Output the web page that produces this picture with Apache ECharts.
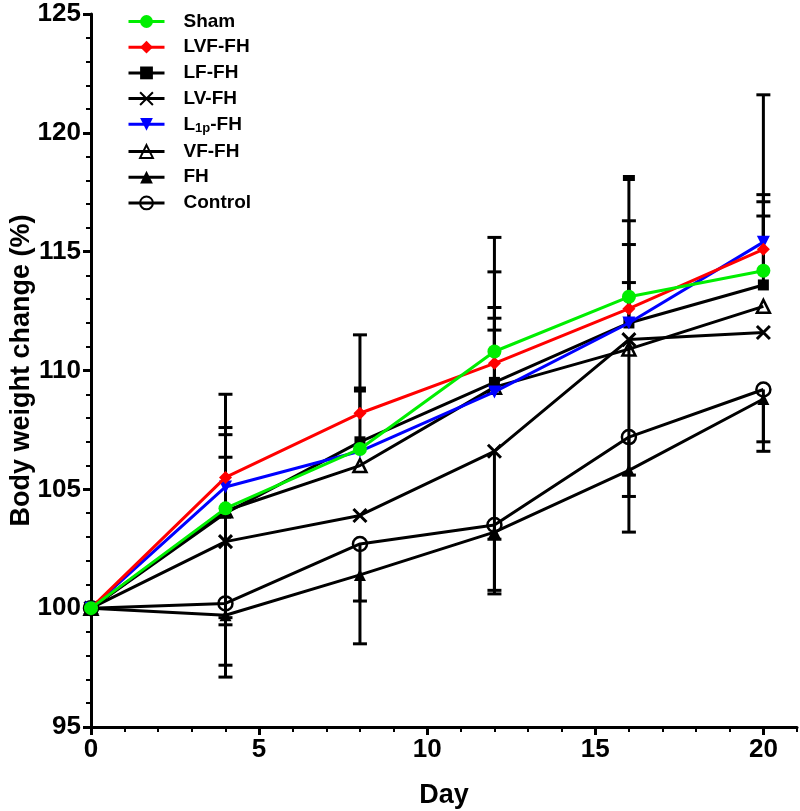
<!DOCTYPE html>
<html>
<head>
<meta charset="utf-8">
<script src="https://cdn.jsdelivr.net/npm/echarts@6/dist/echarts.min.js"></script>
<style>html,body{margin:0;padding:0;background:#fff}#chart{width:800px;height:811px}</style>
</head>
<body>
<div id="chart"></div>
<script>
// ---- data ----
var days = [0, 4, 8, 12, 16, 20];
var seriesNames = ['Sham', 'LVF-FH', 'LF-FH', 'LV-FH', 'L1p-FH', 'VF-FH', 'FH', 'Control'];
var sham    = [100, 104.2, 106.7, 110.8, 113.1, 114.2];
var lvf     = [100, 105.5, 108.2, 110.3, 112.6, 115.1];
var lf      = [100, 104.0, 107.0, 109.5, 112.0, 113.6];
var lv      = [100, 102.8, 103.9, 106.6, 111.3, 111.6];
var l1p     = [100, 105.1, 106.6, 109.1, 112.0, 115.4];
var vf      = [100, 104.1, 106.0, 109.3, 110.9, 112.7];
var fh      = [100, 99.7, 101.4, 103.2, 105.8, 108.8];
var control = [100, 100.2, 102.7, 103.5, 107.2, 109.2];
// signed error (one-sided bars, + up / - down)
var shamErr    = [0, 3.1, 0, 4.8, 3.2, 2.9];
var lvfErr     = [0, 3.5, 3.3, 3.85, 2.7, 6.5];
var lfErr      = [0, 2.35, 2.2, 3.15, 6.1, 2.9];
var lvErr      = [0, -3.2, 0, -3.7, -6.6, 0];
var l1pErr     = [0, 2.5, 0, 3.1, 1.7, 2.0];
var vfErr      = [0, -4.8, 0, 2.4, 0, 0];
var fhErr      = [0, -2.6, -2.9, -2.6, -2.6, -2.2];
var controlErr = [0, -2.6, -2.4, -2.75, -1.6, -2.2];
var xTicks = [0, 5, 10, 15, 20];

var FONT = "'Liberation Sans', Arial, sans-serif";
var values = [sham, lvf, lf, lv, l1p, vf, fh, control];
var errs = [shamErr, lvfErr, lfErr, lvErr, l1pErr, vfErr, fhErr, controlErr];
// caps drawn heavy in the reference (series index -> day indices)
var heavyCaps = {2: [2, 4]};

var styles = [
  {color: '#00ee00', symbol: 'circle', size: 14, fill: '#00ee00', z: 9},
  {color: '#ff0000', symbol: 'diamond', size: 13, fill: '#ff0000', z: 8},
  {color: '#000000', symbol: 'rect', size: 11, fill: '#000000', z: 6},
  {color: '#000000', symbol: 'path://M0,0L10,10M10,0L0,10', size: 13, fill: 'none', z: 5},
  {color: '#0000ff', symbol: 'triangle', size: 13, fill: '#0000ff', z: 7, rotate: 180},
  {color: '#000000', symbol: 'triangle', size: 13, fill: 'none', z: 4},
  {color: '#000000', symbol: 'triangle', size: 12, fill: '#000000', z: 3},
  {color: '#000000', symbol: 'circle', size: 14, fill: 'none', z: 3}
];

var series = [];
var errData = [];
for (var s = 0; s < values.length; s++) {
  for (var i = 0; i < days.length; i++) {
    if (errs[s][i] !== 0) {
      var heavy = heavyCaps[s] && heavyCaps[s].indexOf(i) >= 0;
      errData.push([days[i], values[s][i], values[s][i] + errs[s][i], heavy ? 1 : 0]);
    }
  }
}
series.push({
  type: 'custom',
  name: 'err',
  z: 2,
  silent: true,
  data: errData,
  encode: {x: 0, y: [1, 2]},
  renderItem: function (params, api) {
    var x = api.value(0);
    var p0 = api.coord([x, api.value(1)]);
    var p1 = api.coord([x, api.value(2)]);
    var thick = api.value(3) === 1;
    var hw = thick ? 6 : 7;
    return {
      type: 'group',
      children: [
        {type: 'line', shape: {x1: p0[0], y1: p0[1], x2: p1[0], y2: p1[1]}, style: {stroke: '#000', lineWidth: 3}},
        {type: 'line', shape: {x1: p1[0] - hw, y1: p1[1], x2: p1[0] + hw, y2: p1[1]}, style: {stroke: '#000', lineWidth: thick ? 6 : 3}}
      ]
    };
  }
});

for (var k = 0; k < values.length; k++) {
  var st = styles[k];
  var d = days.map(function (dd, i) { return [dd, values[k][i]]; });
  var isPath = st.symbol.indexOf('path://') === 0;
  series.push({
    type: 'line',
    name: seriesNames[k],
    data: d,
    z: st.z,
    symbol: st.symbol,
    symbolSize: st.size,
    symbolRotate: st.rotate || 0,
    showAllSymbol: true,
    lineStyle: {color: st.color, width: 3},
    itemStyle: {
      color: st.fill === 'none' ? 'rgba(0,0,0,0)' : st.fill,
      borderColor: st.color,
      borderWidth: (st.fill === 'none') ? (isPath ? 3 : 2.5) : 0
    },
    emphasis: {disabled: true},
    animation: false
  });
}

var chart = echarts.init(document.getElementById('chart'), null, {renderer: 'canvas'});
chart.setOption({
  animation: false,
  backgroundColor: '#fff',
  grid: {left: 91, right: 3, top: 14, bottom: 84, containLabel: false, outerBoundsMode: 'none'},
  legend: {
    data: seriesNames,
    orient: 'vertical',
    left: 122,
    top: 7,
    itemWidth: 36,
    itemHeight: 16,
    itemGap: 6.7,
    selectedMode: false,
    lineStyle: {width: 3},
    textStyle: {
      fontFamily: FONT, fontWeight: 'bold', fontSize: 19, color: '#000', lineHeight: 16,
      padding: [0, 0, 0, 14],
      rich: {
        b: {fontFamily: FONT, fontWeight: 'bold', fontSize: 19, color: '#000'},
        s: {fontFamily: FONT, fontWeight: 'bold', fontSize: 13, color: '#000', padding: [9, 0, 0, 0]}
      }
    },
    formatter: function (name) {
      if (name === 'L1p-FH') return '{b|L}{s|1p}{b|-FH}';
      return name;
    }
  },
  xAxis: [
    {
      type: 'value', min: 0, max: 21, interval: 5,
      name: 'Day', nameLocation: 'middle', nameGap: 55, nameMoveOverlap: false,
      nameTextStyle: {fontFamily: FONT, fontWeight: 'bold', fontSize: 27, color: '#000'},
      axisLine: {show: true, onZero: false, lineStyle: {color: '#000', width: 3}},
      axisTick: {show: true, length: 8, lineStyle: {color: '#000', width: 3}, customValues: xTicks},
      axisLabel: {show: true, margin: 10, customValues: xTicks, fontFamily: FONT, fontWeight: 'bold', fontSize: 26, color: '#000'},
      splitLine: {show: false}
    },
    {
      type: 'value', min: 0, max: 21, interval: 1, position: 'bottom',
      axisLine: {show: false},
      axisTick: {show: true, length: 5, lineStyle: {color: '#000', width: 2}},
      axisLabel: {show: false},
      splitLine: {show: false}
    }
  ],
  yAxis: [
    {
      type: 'value', min: 95, max: 125, interval: 5,
      name: 'Body weight change (%)', nameLocation: 'middle', nameGap: 56, nameMoveOverlap: false,
      nameTextStyle: {fontFamily: FONT, fontWeight: 'bold', fontSize: 27, color: '#000'},
      axisLine: {show: true, onZero: false, lineStyle: {color: '#000', width: 3}},
      axisTick: {show: true, length: 8, lineStyle: {color: '#000', width: 3}},
      axisLabel: {show: true, margin: 10, fontFamily: FONT, fontWeight: 'bold', fontSize: 26, color: '#000'},
      splitLine: {show: false}
    },
    {
      type: 'value', min: 95, max: 125, interval: 1, position: 'left',
      axisLine: {show: false},
      axisTick: {show: true, length: 5, lineStyle: {color: '#000', width: 2}},
      axisLabel: {show: false},
      splitLine: {show: false}
    }
  ],
  series: series
});
</script>
</body>
</html>
